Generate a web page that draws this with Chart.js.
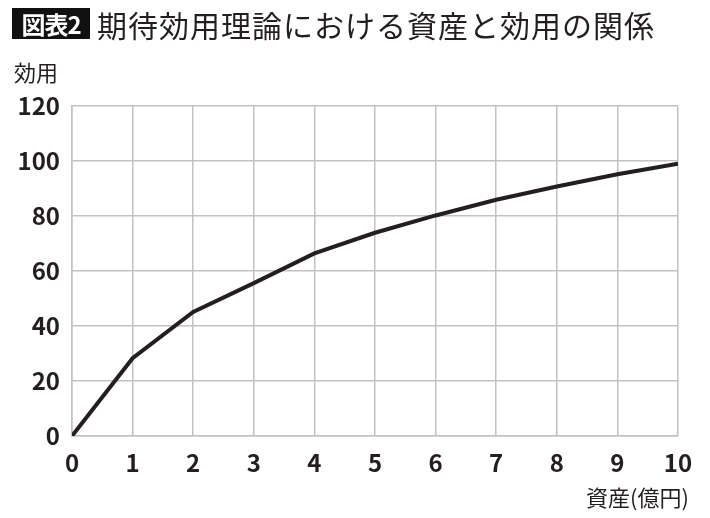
<!DOCTYPE html>
<html lang="ja">
<head>
<meta charset="utf-8">
<script src="https://cdn.jsdelivr.net/npm/chart.js@4/dist/chart.umd.min.js"></script>
<style>
  html, body { margin: 0; padding: 0; background: #fff; }
  #wrap { position: relative; width: 710px; height: 518px; font-family: "Noto Sans CJK JP", sans-serif; color: #231f20; }
  #chart { position: absolute; left: 0; top: 0; }
  .badge { position: absolute; left: 12px; top: 8px; width: 78px; height: 31px; background: #111; color: #fff;
           font-size: 24px; font-weight: 700; line-height: 31px; text-align: center; letter-spacing: -1px; }
  .title { position: absolute; left: 97px; top: 4px; font-size: 30px; line-height: 40px; white-space: nowrap; letter-spacing: 1px; }
  .ylabel { position: absolute; left: 14px; top: 56px; font-size: 22px; line-height: 30px; }
  .xlabel { position: absolute; left: 586px; top: 481px; font-size: 22px; line-height: 30px; white-space: nowrap; }
</style>
</head>
<body>
<div id="wrap">
  <canvas id="chart" width="710" height="518"></canvas>
  <div class="badge">図表2</div>
  <div class="title">期待効用理論における資産と効用の関係</div>
  <div class="ylabel">効用</div>
  <div class="xlabel">資産(億円)</div>
</div>
<script>
// values
const assets = [0, 1, 2, 3, 4, 5, 6, 7, 8, 9, 10];
const utility = [0, 28.3, 45.1, 55.6, 66.4, 73.9, 80.2, 85.9, 90.7, 95.2, 99.0];
const xTicks = [0, 1, 2, 3, 4, 5, 6, 7, 8, 9, 10];
const yTicks = [0, 20, 40, 60, 80, 100, 120];

const gridColor = "#c2c2c2";
const tickFont = { family: "'Noto Sans CJK JP', sans-serif", size: 24, weight: "bold" };

const ctx = document.getElementById("chart").getContext("2d");
const chart = new Chart(ctx, {
  type: "line",
  data: {
    datasets: [
      {
        data: assets.map((a, i) => ({ x: a, y: utility[i] })),
        borderColor: "#231f20",
        borderWidth: 4,
        pointRadius: 0,
        tension: 0,
        fill: false,
      },
    ],
  },
  options: {
    responsive: false,
    animation: false,
    layout: { padding: { left: 0, top: 106, right: 32, bottom: 0 } },
    scales: {
      x: {
        type: "linear",
        min: xTicks[0],
        max: xTicks[xTicks.length - 1],
        afterBuildTicks: (scale) => { scale.ticks = xTicks.map((v) => ({ value: v })); },
        afterFit: (scale) => { scale.height = 82; },
        grid: { color: gridColor, lineWidth: 1.5, drawTicks: false },
        border: { color: gridColor, width: 1.5 },
        ticks: { color: "#231f20", font: tickFont, padding: 12, maxRotation: 0 },
      },
      y: {
        min: yTicks[0],
        max: yTicks[yTicks.length - 1],
        afterBuildTicks: (scale) => { scale.ticks = yTicks.map((v) => ({ value: v })); },
        afterFit: (scale) => { scale.width = 72; },
        grid: { color: gridColor, lineWidth: 1.5, drawTicks: false },
        border: { color: gridColor, width: 1.5 },
        ticks: { color: "#231f20", font: tickFont, padding: 12 },
      },
    },
    plugins: {
      legend: { display: false },
      tooltip: { enabled: false },
    },
  },
});
</script>
</body>
</html>
